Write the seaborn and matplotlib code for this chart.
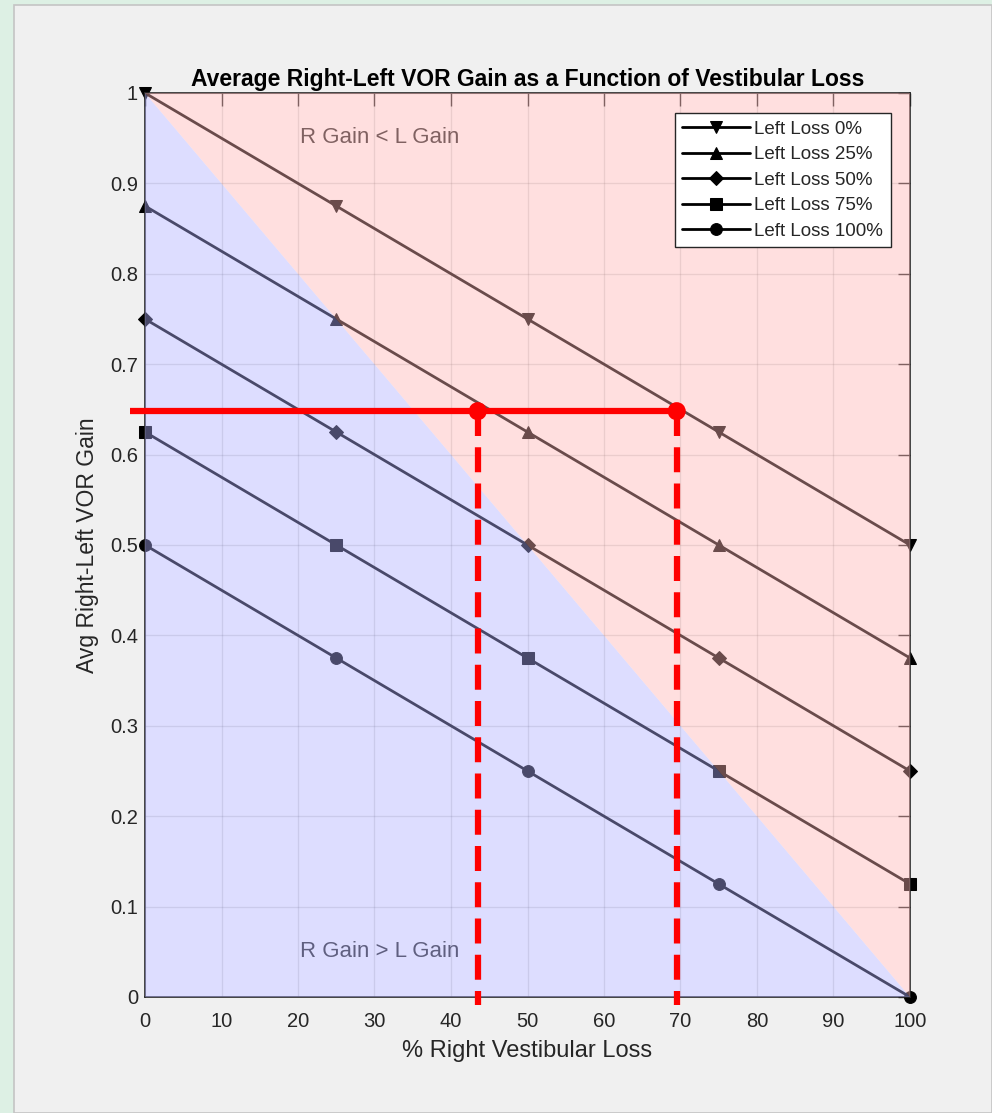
import matplotlib
matplotlib.use("Agg")
import matplotlib.pyplot as plt
from matplotlib.patches import Polygon, Rectangle
import seaborn as sns
import pandas as pd

# % right vestibular loss at which gains are evaluated
right_loss = [0, 25, 50, 75, 100]

# Average right-left VOR gain for each level of left loss
gain_left0 = [1.0, 0.875, 0.75, 0.625, 0.5]
gain_left25 = [0.875, 0.75, 0.625, 0.5, 0.375]
gain_left50 = [0.75, 0.625, 0.5, 0.375, 0.25]
gain_left75 = [0.625, 0.5, 0.375, 0.25, 0.125]
gain_left100 = [0.5, 0.375, 0.25, 0.125, 0.0]

series_labels = ["Left Loss 0%", "Left Loss 25%", "Left Loss 50%",
                 "Left Loss 75%", "Left Loss 100%"]
series_markers = ["v", "^", "D", "s", "o"]

# Worked example: one measured gain and the two loss readings it implies
example_gain = 0.648
example_losses = [43.5, 69.5]
x_ticks = [0, 10, 20, 30, 40, 50, 60, 70, 80, 90, 100]
y_ticks = [0, 0.1, 0.2, 0.3, 0.4, 0.5, 0.6, 0.7, 0.8, 0.9, 1.0]

sns.set_theme(style="white")
plt.rcParams["font.family"] = ["Liberation Sans", "DejaVu Sans"]
plt.rcParams["axes.edgecolor"] = "#262626"
plt.rcParams["xtick.color"] = "#262626"
plt.rcParams["ytick.color"] = "#262626"

fig = plt.figure(figsize=(9.92, 11.13), dpi=100)
fig.patch.set_facecolor("#ddf0e4")
panel = Rectangle((14 / 992, 0), 1 - 14 / 992, 1 - 5 / 1113,
                  transform=fig.transFigure, facecolor="#f0f0f0",
                  edgecolor="#c4c4c4", linewidth=1.2, zorder=-5)
fig.patches.append(panel)

ax = fig.add_axes([145 / 992, 1 - 997 / 1113, 765 / 992, 904 / 1113])
ax.set_zorder(1)
ax.set_facecolor("white")

frames = []
for lab, g in zip(series_labels,
                  [gain_left0, gain_left25, gain_left50, gain_left75, gain_left100]):
    frames.append(pd.DataFrame({"right": right_loss, "gain": g, "series": lab}))
df = pd.concat(frames, ignore_index=True)

marker_sizes = {"v": 8.5, "^": 8.5, "D": 7, "s": 8, "o": 8.5}
for lab, mk in zip(series_labels, series_markers):
    sub = df[df["series"] == lab]
    sns.lineplot(data=sub, x="right", y="gain", ax=ax, color="black",
                 marker=mk, markersize=marker_sizes[mk],
                 markeredgecolor="black", linewidth=2.0, label=lab,
                 clip_on=False, zorder=2, legend=False)

# Shaded regions for R gain > L gain (below diagonal) and R gain < L gain
ax.add_patch(Polygon([(0, 0), (0, 1), (100, 0)], closed=True,
                     facecolor=(0.69, 0.69, 1.0), alpha=0.42,
                     edgecolor="none", zorder=3))
ax.add_patch(Polygon([(0, 1), (100, 1), (100, 0)], closed=True,
                     facecolor=(1.0, 0.71, 0.71), alpha=0.42,
                     edgecolor="none", zorder=3))

ax.text(30.7, 0.951, "R Gain < L Gain", ha="center", va="center",
        fontsize=16, color="#262626", zorder=2.8)
ax.text(30.7, 0.05, "R Gain > L Gain", ha="center", va="center",
        fontsize=16, color="#262626", zorder=2.8)

ax.set_xlim(0, 100)
ax.set_ylim(0, 1)
ax.set_xticks(x_ticks)
ax.set_yticks(y_ticks)
ax.set_xticklabels([str(v) for v in x_ticks])
ax.set_yticklabels(["0" if v == 0 else ("1" if v == 1 else f"{v:g}") for v in y_ticks])
ax.tick_params(direction="in", length=9, width=1, top=True, right=True,
               labelsize=14.5)
ax.tick_params(axis="x", pad=11)
ax.tick_params(axis="y", pad=5)
ax.grid(True, color=(0.15, 0.15, 0.15), alpha=0.15, linewidth=1)
for sp in ax.spines.values():
    sp.set_visible(True)
    sp.set_linewidth(1.2)
    sp.set_color("#262626")

ax.set_xlabel("% Right Vestibular Loss", fontsize=17, color="#262626", labelpad=6)
ax.set_ylabel("Avg Right-Left VOR Gain", fontsize=16.5, color="#262626", labelpad=8)
ax.set_title("Average Right-Left VOR Gain as a Function of Vestibular Loss",
             fontsize=16.5, fontweight="bold", color="black", pad=5)

leg = ax.legend(loc="upper right", bbox_to_anchor=(0.975, 0.978), fontsize=13.5,
                frameon=True, fancybox=False, edgecolor="#262626",
                framealpha=1, handlelength=3.6, labelspacing=0.45,
                borderpad=0.4, handletextpad=0.25, borderaxespad=0)
leg.get_frame().set_linewidth(1.0)
leg.set_zorder(5)

# Worked example drawn over the chart
ax.plot([-2, example_losses[1]], [example_gain, example_gain], color="#ff0000",
        linewidth=4.5, clip_on=False, zorder=6, solid_capstyle="butt")
for xv in example_losses:
    ax.plot([xv, xv], [example_gain, -0.009], color="#ff0000", linewidth=4.5,
            linestyle=(0, (4, 1.8)), clip_on=False, zorder=6,
            dash_capstyle="butt")
ax.scatter(example_losses, [example_gain] * len(example_losses), s=170,
           color="#ff0000", zorder=7, clip_on=False, edgecolors="none")

fig.savefig("out.png", dpi=100, facecolor=fig.get_facecolor())
